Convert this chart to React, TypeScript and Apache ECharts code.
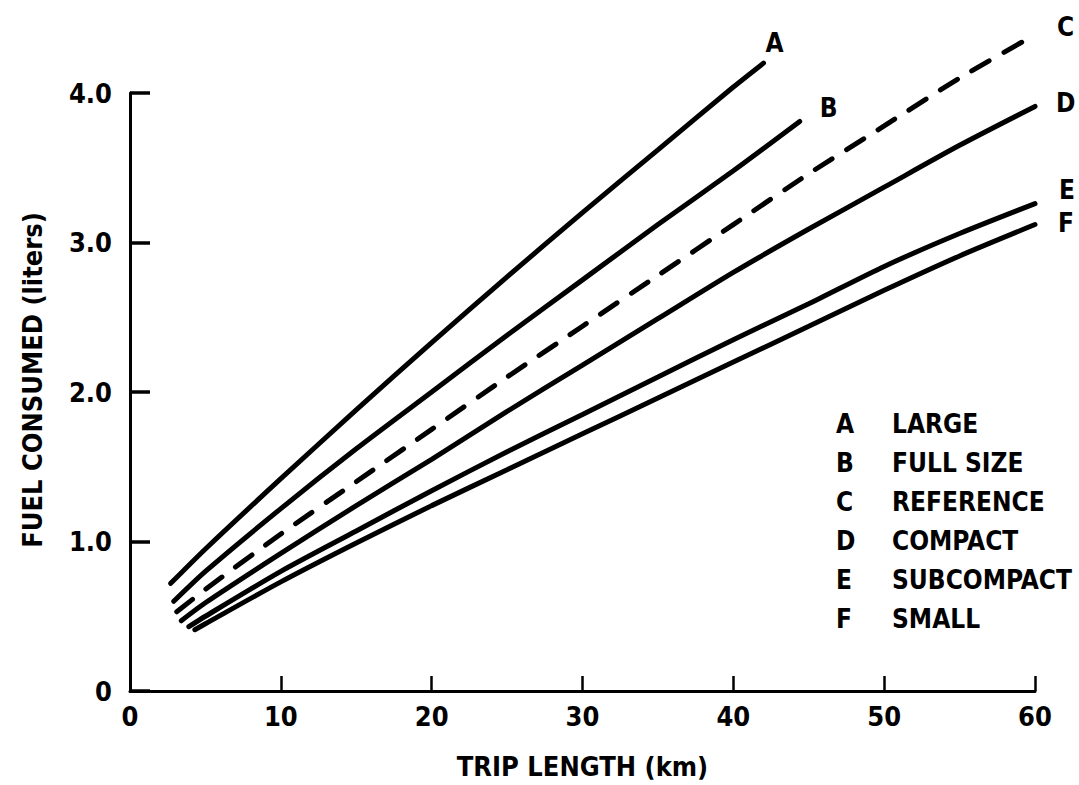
import React, { useEffect, useRef } from "react";
import * as echarts from "echarts";

const FONT = '"DejaVu Sans Condensed", "Liberation Sans Narrow", "DejaVu Sans", sans-serif';

const seriesLetters = ["A", "B", "C", "D", "E", "F"];
const seriesNames = ["LARGE", "FULL SIZE", "REFERENCE", "COMPACT", "SUBCOMPACT", "SMALL"];

const dataA = [[2.7, 0.72], [5, 0.95], [10, 1.42], [15, 1.88], [20, 2.33], [25, 2.77], [30, 3.2], [35, 3.62], [40, 4.04], [42, 4.2]];
const dataB = [[2.9, 0.6], [5, 0.8], [10, 1.22], [15, 1.62], [20, 2.0], [25, 2.38], [30, 2.75], [35, 3.12], [40, 3.48], [44.4, 3.81]];
const dataC = [[3.1, 0.53], [5, 0.68], [10, 1.05], [15, 1.4], [20, 1.75], [25, 2.1], [30, 2.44], [35, 2.78], [40, 3.12], [45, 3.46], [50, 3.78], [55, 4.1], [60, 4.39]];
const dataD = [[3.4, 0.47], [5, 0.59], [10, 0.92], [15, 1.24], [20, 1.55], [25, 1.87], [30, 2.18], [35, 2.49], [40, 2.8], [45, 3.09], [50, 3.37], [55, 3.65], [60, 3.91]];
const dataE = [[3.9, 0.43], [5, 0.5], [10, 0.8], [15, 1.07], [20, 1.34], [25, 1.6], [30, 1.85], [35, 2.1], [40, 2.35], [45, 2.59], [50, 2.84], [55, 3.06], [60, 3.26]];
const dataF = [[4.3, 0.41], [5, 0.45], [10, 0.73], [15, 0.99], [20, 1.24], [25, 1.48], [30, 1.72], [35, 1.96], [40, 2.2], [45, 2.44], [50, 2.68], [55, 2.91], [60, 3.12]];

const allData = [dataA, dataB, dataC, dataD, dataE, dataF];
const labelOffsets = [[-6, -20], [12, -13], [14, -8], [13, -3], [16, -14], [15, -2]];

export default function App() {
  const ref = useRef<HTMLDivElement>(null);
  useEffect(() => {
    if (!ref.current) return;
    const chart = echarts.init(ref.current, null, { renderer: "svg" });
    const series = allData.map((d, i) => ({
      name: seriesNames[i],
      type: "line",
      data: d,
      smooth: 0.25,
      symbol: "none",
      clip: false,
      lineStyle: {
        color: "#000",
        width: 5,
        type: i === 2 ? [20, 17] : "solid",
        cap: "round",
      },
      itemStyle: { color: "#000" },
      endLabel: {
        show: true,
        formatter: seriesLetters[i],
        offset: labelOffsets[i],
        fontFamily: FONT,
        fontSize: 26,
        fontWeight: "bold",
        lineHeight: 22,
        color: "#000",
      },
    }));
    chart.setOption({
      animation: false,
      backgroundColor: "#fff",
      textStyle: { fontFamily: FONT, color: "#000", fontWeight: "bold" },
      grid: { left: 130, right: 44, top: 93, bottom: 93, containLabel: false },
      legend: {
        show: true,
        orient: "vertical",
        left: 826,
        top: 406,
        icon: "rect",
        itemWidth: 0,
        itemHeight: 0,
        itemGap: 13,
        selectedMode: false,
        data: seriesNames,
        formatter: (name: string) => {
          const idx = seriesNames.indexOf(name);
          return `{l|${seriesLetters[idx]}}{n|${name}}`;
        },
        textStyle: {
          rich: {
            l: { width: 56, fontSize: 26, fontWeight: "bold", fontFamily: FONT, color: "#000", lineHeight: 26 },
            n: { fontSize: 26, fontWeight: "bold", fontFamily: FONT, color: "#000", lineHeight: 26 },
          },
        },
      },
      xAxis: {
        type: "value",
        min: 0,
        max: 60,
        interval: 10,
        name: "TRIP LENGTH (km)",
        nameLocation: "middle",
        nameGap: 62,
        nameTextStyle: { fontSize: 27, fontWeight: "bold", fontFamily: FONT, color: "#000" },
        axisLine: { lineStyle: { color: "#000", width: 3 } },
        axisTick: { show: true, inside: true, length: 15, lineStyle: { color: "#000", width: 2.5 } },
        axisLabel: { fontSize: 27, fontWeight: "bold", fontFamily: FONT, color: "#000", margin: 12 },
        splitLine: { show: false },
      },
      yAxis: {
        type: "value",
        min: 0,
        max: 4,
        interval: 1,
        name: "FUEL CONSUMED (liters)",
        nameLocation: "middle",
        nameGap: 84,
        nameRotate: 90,
        nameTextStyle: { fontSize: 27, fontWeight: "bold", fontFamily: FONT, color: "#000", padding: [0, 0, 0, 24] },
        axisLine: { show: true, lineStyle: { color: "#000", width: 3 } },
        axisTick: { show: true, inside: true, length: 20, lineStyle: { color: "#000", width: 3.5 } },
        axisLabel: {
          fontSize: 27,
          fontWeight: "bold",
          fontFamily: FONT,
          color: "#000",
          margin: 18,
          formatter: (v: number) => (v === 0 ? "0" : v.toFixed(1)),
        },
        splitLine: { show: false },
      },
      series,
    });
    return () => chart.dispose();
  }, []);
  return (
    <div
      ref={ref}
      style={{ position: "fixed", left: 0, top: 0, width: 1079, height: 785, background: "#fff" }}
    />
  );
}
